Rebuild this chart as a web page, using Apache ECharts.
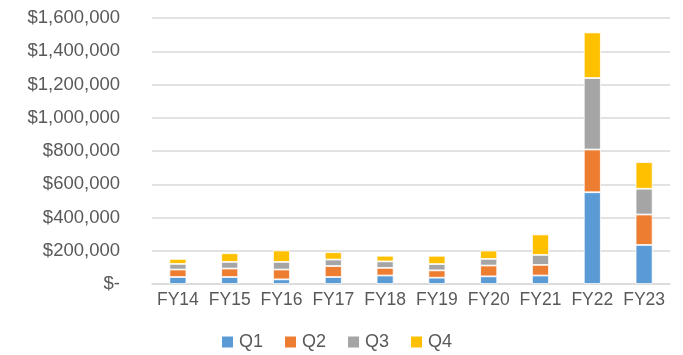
<!DOCTYPE html>
<html>
<head>
<meta charset="utf-8">
<script src="https://cdn.jsdelivr.net/npm/echarts@6/dist/echarts.min.js"></script>
<style>
  html, body { margin: 0; padding: 0; background: #fff; }
  #chart { width: 683px; height: 355px; }
</style>
</head>
<body>
<div id="chart"></div>
<script>
// Fiscal years on the category axis
const categories = ['FY14', 'FY15', 'FY16', 'FY17', 'FY18', 'FY19', 'FY20', 'FY21', 'FY22', 'FY23'];

// Quarterly amounts (USD), stacked per fiscal year
const q1 = [42000, 42000, 28000, 42000, 51000, 38000, 46000, 51000, 552000, 235000];
const q2 = [45000, 51000, 59000, 66000, 46000, 44000, 65000, 64000, 257000, 183000];
const q3 = [34000, 40000, 46000, 39000, 39000, 38000, 40000, 60000, 430000, 155000];
const q4 = [30000, 52000, 69000, 44000, 34000, 50000, 50000, 123000, 274000, 160000];

const seriesNames = ['Q1', 'Q2', 'Q3', 'Q4'];
const seriesData = [q1, q2, q3, q4];
const colors = ['#5B9BD5', '#ED7D31', '#A5A5A5', '#FFC000'];

const textColor = '#595959';
const fontFamily = '"Liberation Sans", Arial, sans-serif';

function money(v) {
  if (v === 0) return '$-';
  return '$' + v.toLocaleString('en-US');
}

const chart = echarts.init(document.getElementById('chart'), null, { renderer: 'canvas' });

chart.setOption({
  animation: false,
  color: colors,
  textStyle: { fontFamily: fontFamily },
  grid: { left: 152, right: 13, top: 18, bottom: 71, containLabel: false },
  legend: {
    data: seriesNames,
    top: 333,
    left: 215,
    padding: [0, 5],
    itemWidth: 13,
    itemHeight: 13,
    itemGap: 20,
    icon: 'rect',
    textStyle: { color: textColor, fontSize: 18, fontFamily: fontFamily }
  },
  xAxis: {
    type: 'category',
    data: categories,
    axisLine: { show: true, lineStyle: { color: '#D9D9D9', width: 1.5 } },
    axisTick: { show: false },
    axisLabel: { color: textColor, fontSize: 17.5, margin: 7, interval: 0, fontFamily: fontFamily }
  },
  yAxis: {
    type: 'value',
    min: 0,
    max: 1600000,
    interval: 200000,
    axisLine: { show: false },
    axisTick: { show: false },
    splitLine: { lineStyle: { color: '#D9D9D9', width: 1.5 } },
    axisLabel: {
      color: textColor,
      fontSize: 18.5,
      margin: 32,
      fontFamily: fontFamily,
      formatter: money
    }
  },
  series: seriesNames.map((name, i) => ({
    name: name,
    type: 'bar',
    stack: 'total',
    barWidth: 17,
    data: seriesData[i],
    itemStyle: { color: colors[i], borderColor: '#ffffff', borderWidth: 0.8 }
  }))
});
</script>
</body>
</html>
